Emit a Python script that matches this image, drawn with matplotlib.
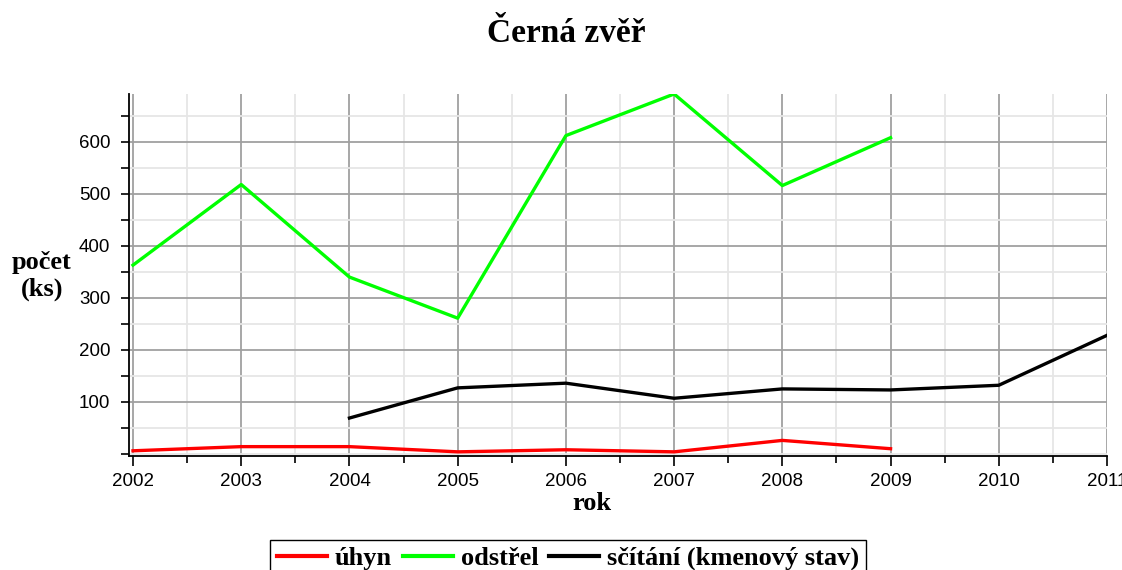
import numpy as np
import matplotlib
matplotlib.use("Agg")
import matplotlib.pyplot as plt
from matplotlib.ticker import MultipleLocator

# Data
years_uhyn = [2002, 2003, 2004, 2005, 2006, 2007, 2008, 2009]
uhyn = [6, 14, 14, 4, 8, 4, 26, 10]

years_odstrel = [2002, 2003, 2004, 2005, 2006, 2007, 2008, 2009]
odstrel = [363, 518, 340, 261, 612, 692, 516, 608]

years_scitani = [2004, 2005, 2006, 2007, 2008, 2009, 2010, 2011]
scitani = [69, 127, 136, 107, 125, 123, 132, 228]

labels = ["úhyn", "odstřel", "sčítání (kmenový stav)"]
colors = ["#ff0000", "#00ff00", "#000000"]

serif = ["Liberation Serif", "DejaVu Serif"]
sans = ["Liberation Sans Narrow", "Liberation Sans", "DejaVu Sans"]

fig = plt.figure(figsize=(11.22, 5.70), dpi=100)
ax = fig.add_axes([129 / 1122, 1 - 456 / 570, (1107 - 129) / 1122, (456 - 94) / 570])

for xs, ys, lab, col in zip([years_uhyn, years_odstrel, years_scitani],
                            [uhyn, odstrel, scitani], labels, colors):
    ax.plot(xs, ys, color=col, lw=2.4, label=lab)

ax.set_xlim(2001.963, 2011)
ax.set_ylim(-4, 692)

ax.xaxis.set_major_locator(MultipleLocator(1))
ax.xaxis.set_minor_locator(MultipleLocator(0.5))
ax.yaxis.set_major_locator(MultipleLocator(100))
ax.yaxis.set_minor_locator(MultipleLocator(50))
ax.set_yticks([100, 200, 300, 400, 500, 600])

ax.grid(which="major", color="#a0a0a0", lw=1.3)
ax.grid(which="minor", color="#e6e6e6", lw=1.3)
ax.set_axisbelow(True)

for s in ["top", "right"]:
    ax.spines[s].set_visible(False)
ax.spines["left"].set_linewidth(1.3)
ax.spines["bottom"].set_linewidth(1.3)

ax.tick_params(axis="y", which="both", direction="out", length=5.5, width=1.2, pad=8)
ax.tick_params(axis="x", which="major", direction="out", length=7.5, width=1.2, pad=5)
ax.tick_params(axis="x", which="minor", direction="out", length=5, width=1.2)
for t in ax.get_xticklabels() + ax.get_yticklabels():
    t.set_family(sans)
    t.set_fontsize(13.5)

fig.text(566 / 1122, 1 - 33 / 570, "Černá zvěř", family=serif, fontweight="bold",
         fontsize=24, ha="center", va="center")
fig.text(42 / 1122, 1 - 276 / 570, "počet\n(ks)", family=serif, fontweight="bold",
         fontsize=19, ha="center", va="center", linespacing=1.25)
fig.text(592 / 1122, 1 - 504 / 570, "rok", family=serif, fontweight="bold",
         fontsize=19, ha="center", va="center")

leg = fig.legend(loc="upper center", bbox_to_anchor=(568 / 1122, 1 - 540 / 570), ncol=3,
                 frameon=True, fancybox=False, edgecolor="black", framealpha=1,
                 prop={"family": serif, "weight": "bold", "size": 19},
                 handlelength=1.9, handletextpad=0.3, columnspacing=0.4,
                 borderpad=0.25, borderaxespad=0)
leg.get_frame().set_linewidth(1.0)
for h in leg.get_lines():
    h.set_linewidth(3)

fig.savefig("out.png", dpi=100)
